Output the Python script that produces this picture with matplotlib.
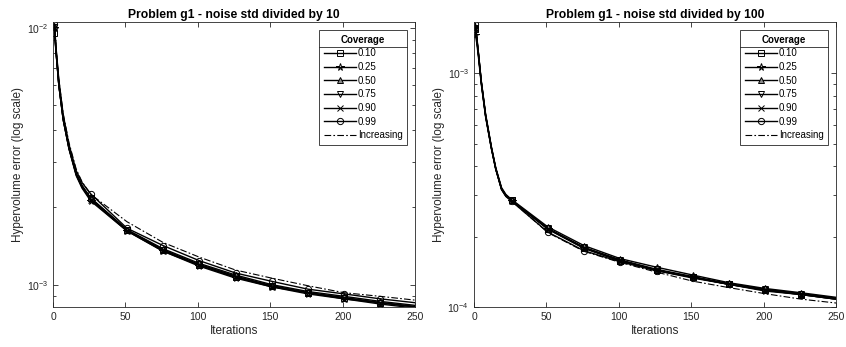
import numpy as np
import matplotlib.pyplot as plt
from matplotlib.lines import Line2D
from matplotlib.ticker import LogLocator, NullFormatter

plt.rcParams['font.family'] = ['Liberation Sans', 'DejaVu Sans']

# ── data ──────────────────────────────────────────────────────────────────────
coverage = ["0.10", "0.25", "0.50", "0.75", "0.90", "0.99"]
markers  = ["s", "*", "^", "v", "x", "o"]

# iterations at which values were read
it_a = [1, 2, 4, 7, 11, 16, 20, 26, 51, 76, 101, 126, 151, 176, 201, 226, 250]
it_b = [1, 2, 3, 5, 8, 12, 15, 19, 22, 26, 51, 76, 101, 126, 151, 176, 201, 226, 250]

# noise std / 10   (values x 1e-3)
g10 = {
    "0.10": [9.6, 8.1, 6.0, 4.4, 3.40, 2.70, 2.42, 2.17, 1.63, 1.37, 1.19, 1.07, 0.99, 0.93, 0.89, 0.85, 0.82],
    "0.25": [10.0, 8.2, 6.0, 4.4, 3.38, 2.66, 2.38, 2.12, 1.62, 1.35, 1.18, 1.06, 0.98, 0.92, 0.88, 0.84, 0.81],
    "0.50": [10.2, 8.3, 6.1, 4.5, 3.45, 2.72, 2.44, 2.18, 1.64, 1.38, 1.21, 1.09, 1.00, 0.94, 0.90, 0.86, 0.83],
    "0.75": [10.1, 8.2, 6.0, 4.45, 3.42, 2.70, 2.42, 2.16, 1.63, 1.36, 1.20, 1.08, 0.99, 0.93, 0.89, 0.85, 0.82],
    "0.90": [10.0, 8.2, 6.0, 4.4, 3.40, 2.68, 2.40, 2.14, 1.62, 1.35, 1.19, 1.07, 0.98, 0.93, 0.88, 0.85, 0.82],
    "0.99": [10.4, 8.5, 6.3, 4.6, 3.52, 2.78, 2.50, 2.26, 1.66, 1.42, 1.24, 1.11, 1.03, 0.96, 0.92, 0.88, 0.85],
}
g10_inc = [10.3, 8.5, 6.3, 4.65, 3.58, 2.82, 2.52, 2.25, 1.76, 1.46, 1.28, 1.14, 1.06, 0.99, 0.93, 0.90, 0.87]

# noise std / 100  (values x 1e-4)
g100 = {
    "0.10": [15.5, 13.8, 12.1, 9.2, 6.6, 4.8, 3.9, 3.2, 3.0, 2.86, 2.16, 1.79, 1.58, 1.44, 1.34, 1.25, 1.18, 1.13, 1.08],
    "0.25": [14.6, 13.3, 11.8, 9.0, 6.5, 4.75, 3.88, 3.18, 2.98, 2.85, 2.15, 1.78, 1.57, 1.43, 1.34, 1.25, 1.17, 1.13, 1.08],
    "0.50": [15.8, 14.0, 12.3, 9.3, 6.7, 4.85, 3.95, 3.24, 3.03, 2.88, 2.20, 1.83, 1.61, 1.48, 1.37, 1.27, 1.20, 1.15, 1.10],
    "0.75": [15.6, 13.9, 12.2, 9.2, 6.6, 4.8, 3.92, 3.22, 3.01, 2.86, 2.17, 1.80, 1.59, 1.45, 1.35, 1.26, 1.19, 1.14, 1.09],
    "0.90": [15.4, 13.8, 12.1, 9.1, 6.55, 4.78, 3.9, 3.2, 3.0, 2.85, 2.16, 1.79, 1.58, 1.44, 1.34, 1.25, 1.18, 1.13, 1.08],
    "0.99": [16.3, 14.2, 12.3, 9.2, 6.6, 4.8, 3.9, 3.18, 2.97, 2.83, 2.09, 1.74, 1.56, 1.43, 1.33, 1.25, 1.19, 1.14, 1.09],
}
g100_inc = [15.6, 13.9, 12.2, 9.2, 6.6, 4.8, 3.9, 3.2, 2.99, 2.84, 2.08, 1.73, 1.55, 1.41, 1.29, 1.21, 1.14, 1.08, 1.04]

titles = ["Problem g1 - noise std divided by 10", "Problem g1 - noise std divided by 100"]
ylims  = [(8.18e-4, 1.058e-2), (1.0e-4, 1.656e-3)]

# ── figure ────────────────────────────────────────────────────────────────────
fig = plt.figure(figsize=(8.46, 3.47), dpi=100)
ax1 = fig.add_axes([0.0627, 0.1153, 0.428, 0.8213])
ax2 = fig.add_axes([0.5603, 0.1153, 0.428, 0.8213])

panels = [(ax1, it_a, g10, g10_inc, 1e-3), (ax2, it_b, g100, g100_inc, 1e-4)]
legs = []
for k, (ax, its, d, inc, sc) in enumerate(panels):
    its = np.array(its)
    mk_idx = [i for i, v in enumerate(its) if v in (1, 26, 51, 76, 101, 126, 151, 176, 201, 226)]
    for cov, m in zip(coverage, markers):
        mfc = "0.55" if m == "^" else "none"
        ax.plot(its, np.array(d[cov]) * sc, color="black", lw=1.0,
                marker=m, ms=4.5 if m != "*" else 5.5, mfc=mfc, mec="black",
                mew=0.7, markevery=mk_idx, label=cov)
    ax.plot(its, np.array(inc) * sc, color="black", lw=0.8,
            ls=(0, (6, 2, 1.5, 2)), label="Increasing")

    ax.set_yscale("log")
    ax.set_xlim(0, 250)
    ax.set_ylim(*ylims[k])
    ax.set_xticks([0, 50, 100, 150, 200, 250])
    ax.yaxis.set_minor_locator(LogLocator(base=10, subs=np.arange(2, 10)))
    ax.yaxis.set_minor_formatter(NullFormatter())
    ax.tick_params(which="both", direction="in", top=True, right=True,
                   labelsize=7.5, colors="0.15", width=0.6)
    ax.tick_params(which="major", length=3.5)
    ax.tick_params(which="minor", length=2)
    for sp in ax.spines.values():
        sp.set_linewidth(0.6)
        sp.set_color("0.15")
    ax.set_title(titles[k], fontsize=8.7, fontweight="bold", pad=3)
    ax.set_xlabel("Iterations", fontsize=8.5, color="0.15", labelpad=2)
    ax.set_ylabel("Hypervolume error (log scale)", fontsize=8.5, color="0.15", labelpad=2)

    leg = ax.legend(title="Coverage", loc="upper right", fontsize=7,
                    title_fontproperties={"weight": "bold", "size": 7},
                    fancybox=False, framealpha=1, edgecolor="0.15",
                    handlelength=3.3, handletextpad=0.2, labelspacing=0.38,
                    borderpad=0.45, borderaxespad=0.85)
    leg.get_frame().set_linewidth(0.6)
    legs.append(leg)

# separator line under the legend titles
fig.canvas.draw()
inv = fig.transFigure.inverted()
for leg in legs:
    fb = leg.get_frame().get_window_extent()
    tb = leg.get_title().get_window_extent()
    y = tb.y0 - 2
    (x0, yf), (x1, _) = inv.transform([(fb.x0, y), (fb.x1, y)])
    fig.add_artist(Line2D([x0, x1], [yf, yf], transform=fig.transFigure,
                          color="0.15", lw=0.6))

plt.savefig("out.png", dpi=100)
plt.close()
